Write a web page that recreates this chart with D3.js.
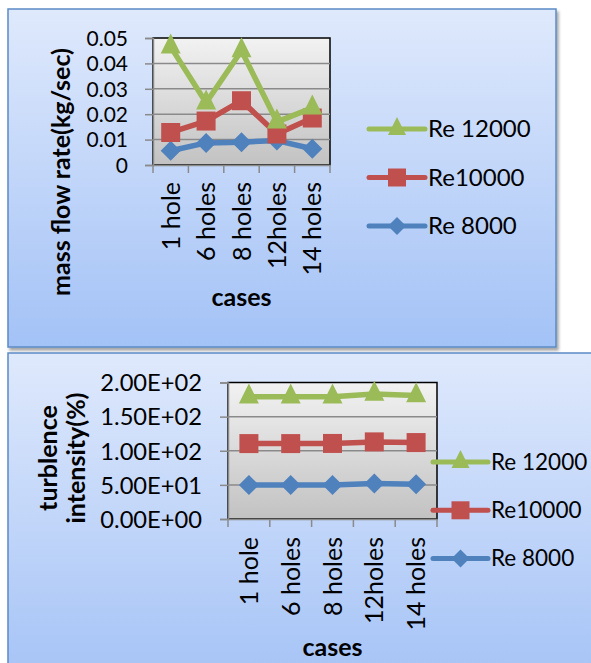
<!DOCTYPE html>
<html><head><meta charset="utf-8">
<script src="https://cdn.jsdelivr.net/npm/d3@7"></script>
<style>
body{margin:0;background:#fff;overflow:hidden}
svg{display:block}
text{font-family:Lato,"Open Sans",sans-serif;fill:#000}
</style></head>
<body><svg id="c" width="591" height="663"></svg>
<script>
// ---- data ----
const categories = ["1 hole", "6 holes", "8 holes", "12holes", "14 holes"];
const seriesNames = ["Re 12000", "Re10000", "Re 8000"];
const massRe12000 = [0.0465, 0.0245, 0.045, 0.017, 0.0225];
const massRe10000 = [0.0128, 0.0173, 0.0253, 0.0122, 0.0185];
const massRe8000  = [0.0056, 0.0087, 0.0090, 0.0096, 0.0064];
const turbRe12000 = [179, 179, 179, 183, 181];
const turbRe10000 = [110.5, 110.5, 110.7, 113, 112];
const turbRe8000  = [49.8, 49.8, 49.8, 52, 51];
const massTicks = [0, 0.01, 0.02, 0.03, 0.04, 0.05];
const massTickLabels = ["0", "0.01", "0.02", "0.03", "0.04", "0.05"];
const turbTicks = [0, 50, 100, 150, 200];
const turbTickLabels = ["0.00E+00", "5.00E+01", "1.00E+02", "1.50E+02", "2.00E+02"];

const colors = {"Re 12000": "#9bbb59", "Re10000": "#c0504d", "Re 8000": "#4f81bd"};
const shapes = {"Re 12000": "tri", "Re10000": "sq", "Re 8000": "dia"};

const svg = d3.select("#c");
const defs = svg.append("defs");
const pg = defs.append("linearGradient").attr("id", "panelGrad").attr("x1", 0).attr("y1", 0).attr("x2", 0).attr("y2", 1);
pg.append("stop").attr("offset", "0%").attr("stop-color", "#dfe9fc");
pg.append("stop").attr("offset", "100%").attr("stop-color", "#a3c2f6");
const ag = defs.append("linearGradient").attr("id", "plotGrad").attr("x1", 0).attr("y1", 0).attr("x2", 0).attr("y2", 1);
ag.append("stop").attr("offset", "0%").attr("stop-color", "#f2f2f2");
ag.append("stop").attr("offset", "100%").attr("stop-color", "#c2c2c2");
const sh = defs.append("filter").attr("id", "shadow").attr("x", "-5%").attr("y", "-5%").attr("width", "115%").attr("height", "115%");
sh.append("feDropShadow").attr("dx", 2).attr("dy", 3).attr("stdDeviation", 1.5).attr("flood-color", "#000").attr("flood-opacity", 0.35);

function markerPath(shape, s) {
  const h = s / 2;
  if (shape === "sq") return `M${-h},${-h}H${h}V${h}H${-h}Z`;
  if (shape === "dia") return `M0,${-h}L${h},0L0,${h}L${-h},0Z`;
  const H = s;
  return `M0,${-H * 2 / 3}L${h},${H / 3}L${-h},${H / 3}Z`;
}

function drawChart(cfg) {
  const g = svg.append("g");
  g.append("rect").attr("x", cfg.panel[0]).attr("y", cfg.panel[1]).attr("width", cfg.panel[2]).attr("height", cfg.panel[3])
    .attr("fill", "url(#panelGrad)").attr("stroke", "#5b8ac6").attr("stroke-width", 1.5).attr("filter", "url(#shadow)");

  const [px, py, pw, ph] = cfg.plot;
  const x = d3.scaleBand().domain(categories).range([px, px + pw]);
  const y = d3.scaleLinear().domain(cfg.domain).range([py + ph, py]);

  g.append("rect").attr("x", px).attr("y", py).attr("width", pw).attr("height", ph)
    .attr("fill", "url(#plotGrad)").attr("stroke", "#000").attr("stroke-width", 1.5);

  g.append("g").selectAll("line").data(cfg.ticks.slice(1, -1)).join("line")
    .attr("x1", px).attr("x2", px + pw).attr("y1", d => y(d)).attr("y2", d => y(d))
    .attr("stroke", "#8a8a8a").attr("stroke-width", 1.5);

  const yAxis = d3.axisLeft(y).tickValues(cfg.ticks).tickSize(8).tickPadding(cfg.yPad)
    .tickFormat((d, i) => cfg.tickLabels[i]);
  const ya = g.append("g").attr("transform", `translate(${px},0)`).call(yAxis);
  ya.select(".domain").attr("stroke", "#8a8a8a").attr("stroke-width", 1.5);
  ya.selectAll(".tick line").attr("stroke", "#8a8a8a").attr("stroke-width", 1.5);
  ya.selectAll(".tick text").attr("font-family", "Lato").attr("font-size", cfg.yFont).attr("fill", "#000").attr("dy", "0.35em");

  const xAxis = d3.axisBottom(x).tickSize(0).tickFormat("");
  const xa = g.append("g").attr("transform", `translate(0,${py + ph})`).call(xAxis);
  xa.select(".domain").attr("stroke", "#8a8a8a").attr("stroke-width", 1.5);
  const bounds = categories.map(c => x(c)).concat([px + pw]);
  xa.selectAll(".bt").data(bounds).join("line").attr("class", "bt")
    .attr("x1", d => d).attr("x2", d => d).attr("y1", 0).attr("y2", 8)
    .attr("stroke", "#8a8a8a").attr("stroke-width", 1.5);
  g.append("g").selectAll("text").data(categories).join("text")
    .attr("transform", d => `translate(${x(d) + x.bandwidth() / 2},${py + ph + cfg.xPad}) rotate(-90)`)
    .attr("text-anchor", "end").attr("dy", "0.36em").attr("font-size", cfg.xFont).text(d => d);

  const order = ["Re 8000", "Re10000", "Re 12000"];
  const line = d3.line().x((d, i) => x(categories[i]) + x.bandwidth() / 2).y(d => y(d));
  order.forEach(name => {
    const vals = cfg.series[name];
    g.append("path").datum(vals).attr("d", line).attr("fill", "none")
      .attr("stroke", colors[name]).attr("stroke-width", 5.5).attr("stroke-linejoin", "round");
    g.append("g").selectAll("path").data(vals).join("path")
      .attr("transform", (d, i) => `translate(${x(categories[i]) + x.bandwidth() / 2},${y(d)})`)
      .attr("d", markerPath(shapes[name], shapes[name] === "dia" ? 20 : (shapes[name] === "sq" ? 19 : 20)))
      .attr("fill", colors[name]);
  });

  cfg.yTitle.forEach((t, i) => {
    g.append("text").attr("transform", `translate(${cfg.yTitlePos[i][0]},${cfg.yTitlePos[i][1]}) rotate(-90)`)
      .attr("text-anchor", "middle").attr("font-weight", "bold").attr("font-size", cfg.titleFont).text(t);
  });
  g.append("text").attr("x", cfg.xTitlePos[0]).attr("y", cfg.xTitlePos[1]).attr("text-anchor", "middle")
    .attr("font-weight", "bold").attr("font-size", cfg.titleFont).text("cases");

  const [lx, ly, lstep, llen] = cfg.legend;
  seriesNames.forEach((name, i) => {
    const yy = ly + i * lstep;
    g.append("line").attr("x1", lx).attr("x2", lx + llen).attr("y1", yy).attr("y2", yy)
      .attr("stroke", colors[name]).attr("stroke-width", 5).attr("stroke-linecap", "round");
    g.append("path").attr("transform", `translate(${lx + llen / 2},${yy})`)
      .attr("d", markerPath(shapes[name], 18)).attr("fill", colors[name]);
    g.append("text").attr("x", lx + llen + 3).attr("y", yy).attr("dy", "0.35em")
      .attr("font-size", cfg.legendFont).text(name);
  });
}

drawChart({
  panel: [8, 9, 548, 338],
  plot: [153, 38, 177, 127],
  domain: [0, 0.05],
  ticks: massTicks, tickLabels: massTickLabels,
  yPad: 17, yFont: 21, xPad: 17, xFont: 25,
  series: {"Re 12000": massRe12000, "Re10000": massRe10000, "Re 8000": massRe8000},
  yTitle: ["mass flow rate(kg/sec)"], yTitlePos: [[70, 172]],
  xTitlePos: [241.5, 306], titleFont: 25,
  legend: [369, 129, 48.5, 56], legendFont: 24
});

drawChart({
  panel: [8, 353, 600, 338],
  plot: [228, 382.5, 209, 136.5],
  domain: [0, 200],
  ticks: turbTicks, tickLabels: turbTickLabels,
  yPad: 18, yFont: 23.7, xPad: 18, xFont: 25,
  series: {"Re 12000": turbRe12000, "Re10000": turbRe10000, "Re 8000": turbRe8000},
  yTitle: ["turblence", "intensity(%)"], yTitlePos: [[57, 458], [85, 458]],
  xTitlePos: [332.5, 656], titleFont: 25,
  legend: [433, 462, 48.3, 55], legendFont: 22.5
});
</script></body></html>
